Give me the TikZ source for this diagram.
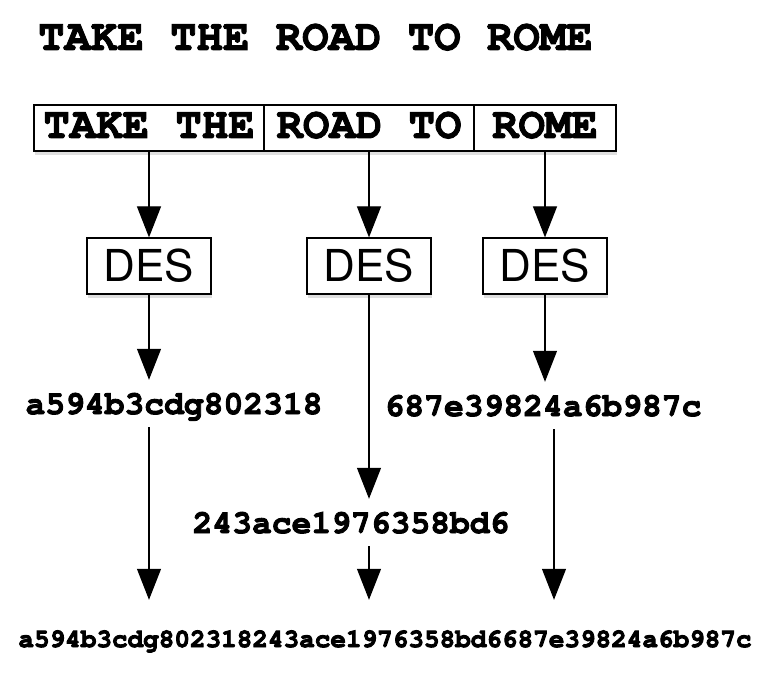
\documentclass[tikz,border=0pt]{standalone}
\usepackage[T1]{fontenc}
\usepackage{courier}
\usepackage{helvet}
\usetikzlibrary{arrows.meta}
\usetikzlibrary{shadows}
% heavier strokes for the typewriter text
\newcommand{\heavy}[1]{\special{pdf:literal 2 Tr 0.9 w}#1\special{pdf:literal 0 Tr 0.4 w}}
\tikzstyle{title_text} = [inner sep=0, font=\fontsize{44}{48}\ttfamily\bfseries\selectfont]
\tikzstyle{part_node} = [rectangle, minimum height=46pt, inner sep=0, text height=27pt, text depth=7pt, draw=black, line width=1.2pt, fill=white, font=\fontsize{44}{48}\ttfamily\bfseries\selectfont, drop shadow={shadow xshift=1pt, shadow yshift=-4pt, opacity=0.25}]
\tikzstyle{des_node} = [rectangle, minimum width=124pt, minimum height=56pt, inner sep=0, draw=black, line width=1.2pt, fill=white, font=\fontsize{44}{48}\sffamily\selectfont, drop shadow={shadow xshift=1pt, shadow yshift=-4pt, opacity=0.25}]
\tikzstyle{hex_node} = [anchor=base, inner xsep=0, inner ysep=13pt, text height=21pt, text depth=0pt, font=\fontsize{33}{36}\ttfamily\bfseries\selectfont]
\tikzstyle{arrow} = [line width=1.2pt,-{Triangle[length=31pt,width=24pt]}]

\begin{document}
\begin{tikzpicture}[x=1pt, y=-1pt, node distance=138pt]
        \useasboundingbox (0,0) rectangle (777,687);
        \node(title) [title_text, anchor=base west] at (38,50) {\heavy{TAKE THE ROAD TO ROME}};

        \node(cell1) [part_node, minimum width=230pt] at (149,128) {\heavy{TAKE THE}};
        \node(cell2) [part_node, minimum width=210pt] at (369,128) {\heavy{ROAD TO}};
        \node(cell3) [part_node, minimum width=142pt] at (545,128) {\heavy{ROME}};

        \node(des1) [des_node, below of=cell1] {DES};
        \node(des2) [des_node, below of=cell2] {DES};
        \node(des3) [des_node, below of=cell3] {DES};

        \node(hex1) [hex_node] at (174,414) {\heavy{a594b3cdg802318}};
        \node(hex2) [hex_node] at (351,533) {\heavy{243ace1976358bd6}};
        \node(hex3) [hex_node] at (543,416) {\heavy{687e39824a6b987c}};

        \node(result) [hex_node, inner ysep=31pt, text height=16pt, font=\fontsize{26}{28}\ttfamily\bfseries\selectfont] at (385,647) {\heavy{a594b3cdg802318243ace1976358bd6687e39824a6b987c}};
        \coordinate (hex3_foot) at ([xshift=11pt]hex3.south);

        \draw[arrow] (cell1) -- (des1);
        \draw[arrow] (cell2) -- (des2);
        \draw[arrow] (cell3) -- (des3);

        \draw[arrow] (des1) -- (des1 |- hex1.north);
        \draw[arrow] (des2) -- (des2 |- hex2.north);
        \draw[arrow] (des3) -- (des3 |- hex3.north);

        \draw[arrow] (des1 |- hex1.south) -- (des1 |- result.north);
        \draw[arrow] (des2 |- hex2.south) -- (des2 |- result.north);
        \draw[arrow] (hex3_foot) -- (hex3_foot |- result.north);
    \end{tikzpicture}
\end{document}
